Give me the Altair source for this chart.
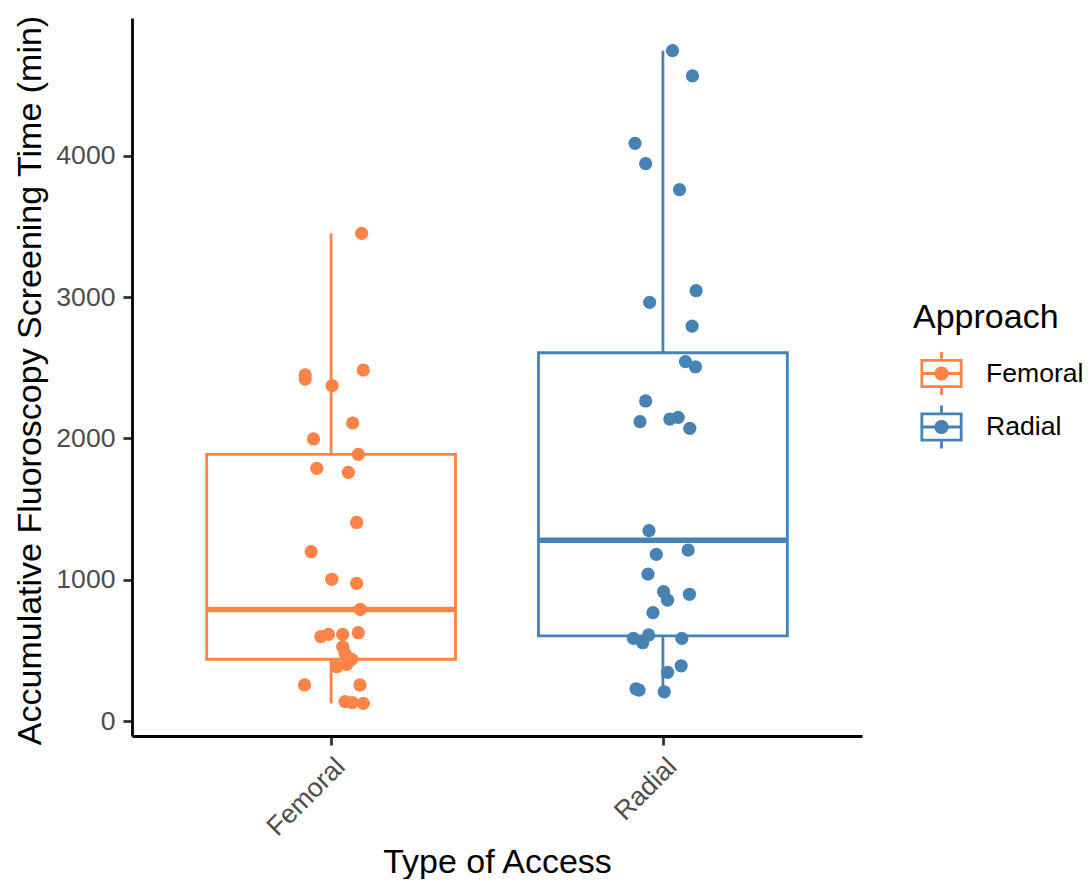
import math
import altair as alt
import pandas as pd

# ---- data ----
categories = ["Femoral", "Radial"]
colors = ["#FF8247", "#4682B4"]

femoral_values = [3451, 2484, 2450, 2420, 2373, 2109, 1996, 1887, 1788, 1760,
                  1405, 1198, 1003, 974, 790, 625, 613, 613, 597, 526,
                  479, 437, 401, 384, 255, 255, 137, 130, 125]
femoral_jitter = [0.092, 0.097, -0.078, -0.078, 0.003, 0.065, -0.053, 0.082, -0.043, 0.052,
                  0.077, -0.060, 0.002, 0.077, 0.088, 0.082, -0.008, 0.035, -0.031, 0.035,
                  0.042, 0.062, 0.047, 0.017, -0.080, 0.087, 0.042, 0.064, 0.097]

radial_values = [4744, 4565, 4088, 3944, 3760, 3045, 2963, 2795, 2543, 2507,
                 2265, 2149, 2137, 2119, 2071, 1347, 1210, 1179, 1040, 915,
                 897, 856, 767, 609, 585, 585, 554, 391, 345, 228, 219, 207]
radial_jitter = [0.029, 0.089, -0.084, -0.052, 0.050, 0.100, -0.040, 0.088, 0.068, 0.098,
                 -0.052, 0.046, 0.021, -0.069, 0.081, -0.042, 0.076, -0.020, -0.045, 0.002,
                 0.080, 0.014, -0.030, -0.043, -0.089, 0.057, -0.061, 0.055, 0.014, -0.081,
                 -0.072, 0.004]

y_ticks = [0, 1000, 2000, 3000, 4000]

rows = []
for cat, vals, jit in [(categories[0], femoral_values, femoral_jitter),
                       (categories[1], radial_values, radial_jitter)]:
    idx = categories.index(cat) + 1
    for v, j in zip(vals, jit):
        rows.append({"access": cat, "idx": idx, "value": v, "xj": idx + j,
                     "col": colors[idx - 1]})
df = pd.DataFrame(rows)

FONT = "Liberation Sans"
BOX_HALF = 0.375
TITLE_SIZE = 34
LABEL_SIZE = 26.6

label_expr = "[" + ",".join("'" + c + "'" for c in categories) + "][datum.value - 1]"

x_scale = alt.Scale(domain=[0.4, 2.6], nice=False, zero=False)
y_scale = alt.Scale(domain=[-106, 4975], nice=False, zero=False)

x_axis = alt.Axis(
    title="Type of Access", values=[1, 2], labelExpr=label_expr,
    labelAngle=-45, labelAlign="right", labelBaseline="top",
    labelFlush=False, labelOverlap=False,
    tickSize=9, tickWidth=2.8, tickColor="#333333",
    labelPadding=8, titlePadding=5,
    domainColor="black", domainWidth=2.8, grid=False,
    labelFont=FONT, labelFontSize=LABEL_SIZE, labelColor="#4D4D4D",
    titleFont=FONT, titleFontSize=TITLE_SIZE, titleColor="black", titleFontWeight="normal",
)
y_axis = alt.Axis(
    title="Accumulative Fluoroscopy Screening Time (min)", values=y_ticks, format="d",
    labelFlush=False, labelOverlap=False,
    tickSize=9, tickWidth=2.8, tickColor="#333333",
    labelPadding=8, titleX=-85, titleY=362, titleBaseline="bottom", titleAngle=270,
    domainColor="black", domainWidth=2.8, grid=False,
    labelFont=FONT, labelFontSize=LABEL_SIZE, labelColor="#4D4D4D",
    titleFont=FONT, titleFontSize=TITLE_SIZE, titleColor="black", titleFontWeight="normal",
)

color_scale = alt.Scale(domain=categories, range=colors)

# legend glyph: outlined box, median bar, whisker stubs and a dot (all filled, nonzero rule)
circle_pts = []
for k in range(32):
    a = 2 * math.pi * k / 32
    circle_pts.append(f"{0.33 * math.cos(a):.4f},{0.33 * math.sin(a):.4f}")
circle_path = "M" + "L".join(circle_pts) + "Z"
legend_symbol = ("M-0.98,-0.68H0.98V0.68H-0.98Z "
                 "M-0.85,-0.55V0.55H0.85V-0.55Z "
                 "M-0.85,-0.065H0.85V0.065H-0.85Z "
                 "M-0.065,-1H0.065V-0.68H-0.065Z "
                 "M-0.065,0.68H0.065V1H-0.065Z "
                 + circle_path)

base = alt.Chart(df)

agg = base.transform_aggregate(
    q1="q1(value)", med="median(value)", q3="q3(value)",
    lo="min(value)", hi="max(value)", groupby=["access", "idx", "col"]
).transform_calculate(
    left=f"datum.idx - {BOX_HALF}", right=f"datum.idx + {BOX_HALF}"
)

stroke_enc = alt.Stroke("col:N", scale=None)

whisker_hi = agg.mark_rule(strokeWidth=2.8).encode(
    x=alt.X("idx:Q", scale=x_scale, axis=x_axis),
    y=alt.Y("q3:Q", scale=y_scale, axis=y_axis),
    y2="hi:Q",
    stroke=stroke_enc,
)
whisker_lo = agg.mark_rule(strokeWidth=2.8).encode(
    x=alt.X("idx:Q", scale=x_scale, axis=x_axis),
    y=alt.Y("q1:Q", scale=y_scale, axis=y_axis),
    y2="lo:Q",
    stroke=stroke_enc,
)
box = agg.mark_rect(fill="white", strokeWidth=2.8).encode(
    x=alt.X("left:Q", scale=x_scale, axis=x_axis),
    x2="right:Q",
    y=alt.Y("q1:Q", scale=y_scale, axis=y_axis),
    y2="q3:Q",
    stroke=stroke_enc,
)
median = agg.mark_rule(strokeWidth=5.5).encode(
    x=alt.X("left:Q", scale=x_scale, axis=x_axis),
    x2="right:Q",
    y=alt.Y("med:Q", scale=y_scale, axis=y_axis),
    stroke=stroke_enc,
)
points = base.mark_circle(size=175, opacity=1).encode(
    x=alt.X("xj:Q", scale=x_scale, axis=x_axis),
    y=alt.Y("value:Q", scale=y_scale, axis=y_axis),
    color=alt.Color(
        "access:N", scale=color_scale,
        legend=alt.Legend(
            title="Approach", orient="none", legendX=781, legendY=283,
            direction="vertical", padding=0,
            symbolType=legend_symbol, symbolSize=1849, symbolStrokeWidth=0,
            symbolOffset=7, labelOffset=23, rowPadding=10.5, titlePadding=17,
            titleFont=FONT, titleFontSize=TITLE_SIZE, titleFontWeight="normal", titleColor="black",
            labelFont=FONT, labelFontSize=LABEL_SIZE, labelColor="black",
        ),
    ),
)

chart = alt.layer(whisker_hi, whisker_lo, box, median, points).properties(
    width=730, height=718,
    padding={"left": 124, "top": 10, "right": 221, "bottom": 143},
    autosize=alt.AutoSizeParams(type="none"),
    background="white",
).configure(font=FONT).configure_view(strokeWidth=0, stroke="transparent")

chart.save("out.html", embed_options={"renderer": "svg", "actions": False})
